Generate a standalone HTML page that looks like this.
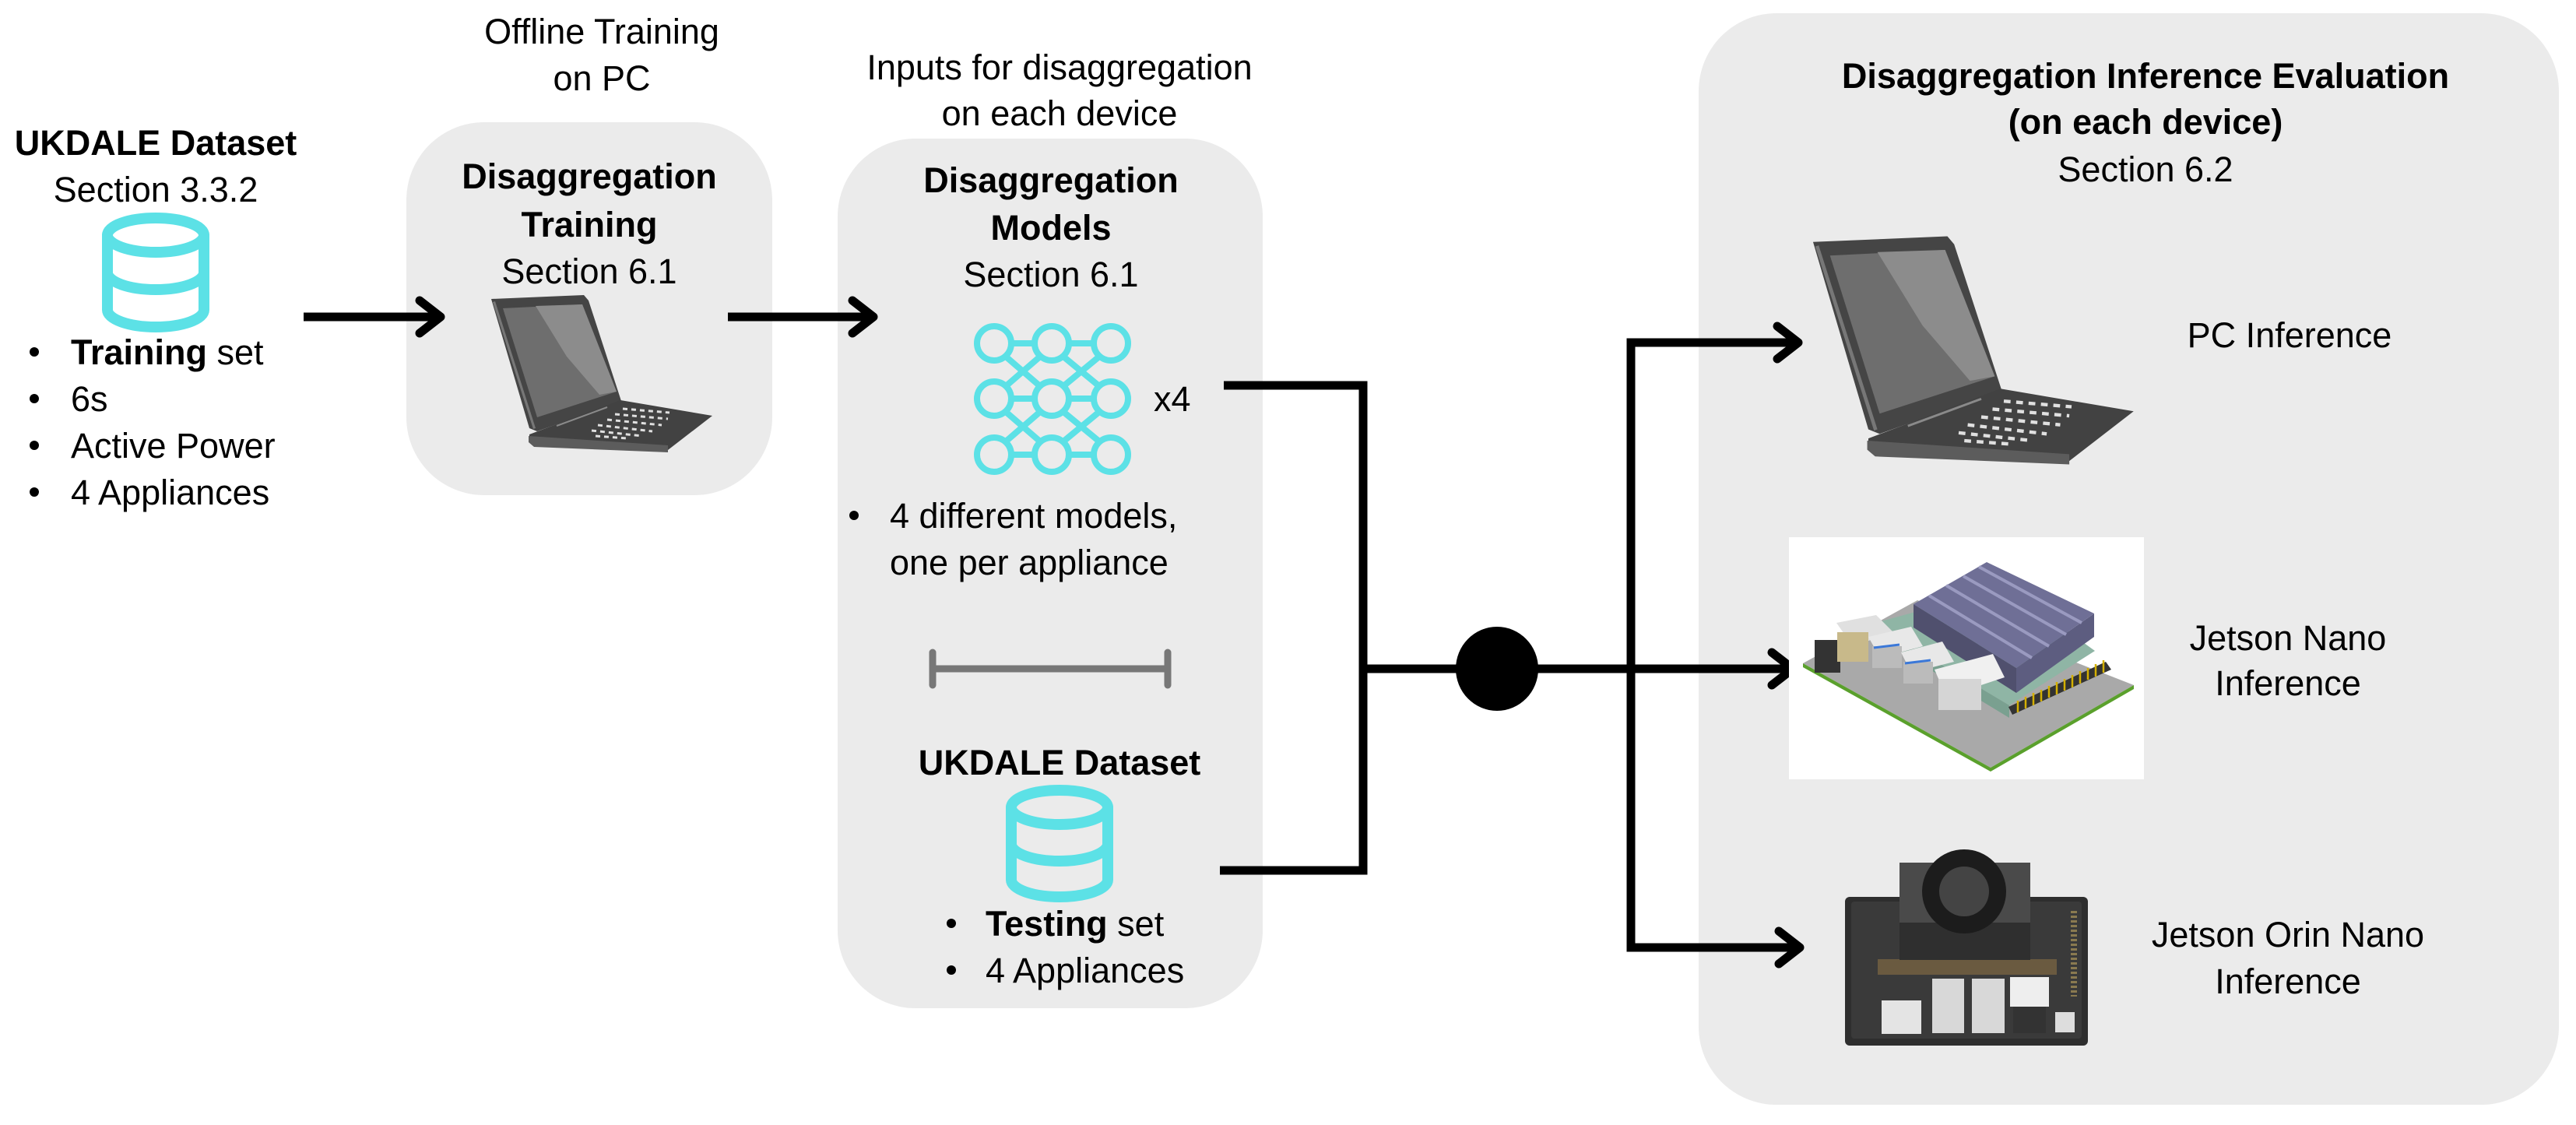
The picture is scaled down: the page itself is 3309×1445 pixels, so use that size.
<!DOCTYPE html>
<html><head><meta charset="utf-8"><style>
html,body{margin:0;padding:0;background:#fff;}
svg{display:block;}
text{font-family:"Liberation Sans",sans-serif;font-size:45px;fill:#000;}
.b{font-weight:bold;}
</style></head><body>
<svg width="3309" height="1445" viewBox="0 0 3309 1445" xmlns="http://www.w3.org/2000/svg">
<defs>
<g id="laptop">
  <polygon points="31,24 150,19 156,26 198,155 90,194 80,190" fill="#454545"/>
  <polygon points="46,36 148,31 192,143 90,176" fill="#6e6e6e"/>
  <polygon points="88,33 148,31 192,143 170,147 128,98" fill="#8c8c8c"/>
  <polygon points="33,28 36,27 88,190 85,191" fill="#777"/>
  <polygon points="80,198 197,154 315,174 258,218 80,208" fill="#424242"/>
  <polygon points="79,200 258,212 258,221 86,214 79,208" fill="#5c5c5c"/>
  <line x1="115" y1="187" x2="180" y2="163" stroke="#8a8a8a" stroke-width="2"/>
  <g stroke="#e0e0e0" stroke-width="3" stroke-dasharray="6,5">
    <line x1="200" y1="165" x2="260" y2="170"/>
    <line x1="190" y1="172" x2="258" y2="178"/>
    <line x1="180" y1="179" x2="250" y2="186"/>
    <line x1="168" y1="186" x2="238" y2="194"/>
    <line x1="160" y1="193" x2="225" y2="200"/>
    <line x1="165" y1="200" x2="205" y2="203"/>
  </g>
</g>
</defs>

<rect x="522" y="157" width="470" height="479" rx="100" fill="#ebebeb"/>
<rect x="1076" y="178" width="546" height="1117" rx="100" fill="#ebebeb"/>
<rect x="2182" y="17" width="1105" height="1402" rx="100" fill="#ebebeb"/>

<text x="773" y="56" text-anchor="middle">Offline Training</text>
<text x="773" y="116" text-anchor="middle">on PC</text>
<text x="200" y="199" text-anchor="middle" class="b">UKDALE Dataset</text>
<text x="200" y="259" text-anchor="middle">Section 3.3.2</text>

<g fill="none" stroke="#5CE1E6" stroke-width="14" stroke-linecap="round">
  <ellipse cx="200" cy="302" rx="62" ry="22"/>
  <path d="M138,302 V398 A62,22 0 0 0 262,398 V302"/>
  <path d="M138,350 A62,22 0 0 0 262,350"/>
</g>
<g>
  <circle cx="44" cy="452" r="6"/><circle cx="44" cy="512" r="6"/><circle cx="44" cy="572" r="6"/><circle cx="44" cy="632" r="6"/>
</g>
<text x="91" y="468"><tspan class="b">Training</tspan> set</text>
<text x="91" y="528">6s</text>
<text x="91" y="588">Active Power</text>
<text x="91" y="648">4 Appliances</text>

<text x="757" y="242" text-anchor="middle" class="b">Disaggregation</text>
<text x="757" y="304" text-anchor="middle" class="b">Training</text>
<text x="757" y="364" text-anchor="middle">Section 6.1</text>
<use href="#laptop" transform="translate(600,360)"/>

<g stroke="#000" stroke-width="11" fill="none" stroke-linecap="round" stroke-linejoin="round">
  <line x1="390" y1="407" x2="562" y2="407" stroke-linecap="butt"/>
  <polyline points="539,386 566,407 539,428"/>
  <line x1="935" y1="407" x2="1118" y2="407" stroke-linecap="butt"/>
  <polyline points="1095,386 1122,407 1095,428"/>
</g>

<text x="1361" y="102" text-anchor="middle">Inputs for disaggregation</text>
<text x="1361" y="161" text-anchor="middle">on each device</text>
<text x="1350" y="247" text-anchor="middle" class="b">Disaggregation</text>
<text x="1350" y="308" text-anchor="middle" class="b">Models</text>
<text x="1350" y="368" text-anchor="middle">Section 6.1</text>

<g fill="none" stroke="#5CE1E6" stroke-width="8">
  <line x1="1300" y1="441" x2="1328" y2="441"/><line x1="1374" y1="441" x2="1404" y2="441"/>
  <line x1="1300" y1="512" x2="1328" y2="512"/><line x1="1374" y1="512" x2="1404" y2="512"/>
  <line x1="1300" y1="584" x2="1328" y2="584"/><line x1="1374" y1="584" x2="1404" y2="584"/>
  <line x1="1292" y1="458" x2="1336" y2="496"/><line x1="1336" y1="458" x2="1292" y2="496"/>
  <line x1="1366" y1="458" x2="1412" y2="496"/><line x1="1412" y1="458" x2="1366" y2="496"/>
  <line x1="1292" y1="529" x2="1336" y2="567"/><line x1="1336" y1="529" x2="1292" y2="567"/>
  <line x1="1366" y1="529" x2="1412" y2="567"/><line x1="1412" y1="529" x2="1366" y2="567"/>
  <circle cx="1277" cy="441" r="22"/><circle cx="1351" cy="441" r="22"/><circle cx="1427" cy="441" r="22"/>
  <circle cx="1277" cy="512" r="22"/><circle cx="1351" cy="512" r="22"/><circle cx="1427" cy="512" r="22"/>
  <circle cx="1277" cy="584" r="22"/><circle cx="1351" cy="584" r="22"/><circle cx="1427" cy="584" r="22"/>
</g>
<text x="1482" y="528">x4</text>
<circle cx="1097" cy="662" r="6"/>
<text x="1143" y="678">4 different models,</text>
<text x="1143" y="738">one per appliance</text>

<g stroke="#777" stroke-width="9" stroke-linecap="round">
  <line x1="1198" y1="859" x2="1500" y2="859"/>
  <line x1="1198" y1="838" x2="1198" y2="880"/>
  <line x1="1500" y1="838" x2="1500" y2="880"/>
</g>

<text x="1361" y="995" text-anchor="middle" class="b">UKDALE Dataset</text>
<g fill="none" stroke="#5CE1E6" stroke-width="14" stroke-linecap="round">
  <ellipse cx="1361" cy="1037" rx="62" ry="22"/>
  <path d="M1299,1037 V1130 A62,22 0 0 0 1423,1130 V1037"/>
  <path d="M1299,1084 A62,22 0 0 0 1423,1084"/>
</g>
<circle cx="1222" cy="1186" r="6"/><circle cx="1222" cy="1246" r="6"/>
<text x="1266" y="1202"><tspan class="b">Testing</tspan> set</text>
<text x="1266" y="1262">4 Appliances</text>

<g stroke="#000" stroke-width="11" fill="none" stroke-linejoin="miter">
  <polyline points="1572,495 1751,495 1751,1118 1567,1118"/>
  <line x1="1751" y1="859" x2="2297" y2="859"/>
  <polyline points="2306,440 2095,440 2095,1217 2306,1217"/>
</g>
<g stroke="#000" stroke-width="11" fill="none" stroke-linecap="round" stroke-linejoin="round">
  <polyline points="2283,419 2310,440 2283,461"/>
  <polyline points="2276,838 2303,859 2276,880"/>
  <polyline points="2285,1196 2312,1217 2285,1238"/>
</g>
<ellipse cx="1923" cy="859" rx="53" ry="54" fill="#000"/>

<text x="2756" y="113" text-anchor="middle" class="b">Disaggregation Inference Evaluation</text>
<text x="2756" y="172" text-anchor="middle" class="b">(on each device)</text>
<text x="2756" y="233" text-anchor="middle">Section 6.2</text>

<use href="#laptop" transform="translate(2284,276) scale(1.45)"/>
<text x="2941" y="446" text-anchor="middle">PC Inference</text>

<!-- Jetson Nano -->
<rect x="2298" y="690" width="456" height="311" fill="#fff"/>
<polygon points="2316,852 2463,771 2741,880 2557,986" fill="#a9a9a9"/>
<polygon points="2316,852 2557,986 2557,991 2316,857" fill="#5aa02c"/>
<polygon points="2557,986 2741,880 2741,885 2557,991" fill="#5aa02c"/>
<polygon points="2405,801 2578,754 2691,836 2581,906" fill="#8fb5a5"/>
<polygon points="2405,801 2581,906 2581,922 2405,815" fill="#7aa090"/>
<!-- heatsink 3D -->
<polygon points="2458,776 2590,858 2590,890 2458,806" fill="#50506e"/>
<polygon points="2590,858 2690,788 2690,818 2590,890" fill="#5d5d80"/>
<polygon points="2458,776 2552,722 2690,788 2590,858" fill="#6f6f96"/>
<g stroke="#9a9ac0" stroke-width="4">
  <line x1="2478" y1="765" x2="2610" y2="845"/>
  <line x1="2500" y1="752" x2="2632" y2="830"/>
  <line x1="2522" y1="740" x2="2654" y2="815"/>
  <line x1="2542" y1="728" x2="2674" y2="800"/>
</g>
<rect x="2331" y="822" width="33" height="42" fill="#333"/>
<polygon points="2359,800 2410,790 2432,812 2380,830" fill="#e0e0e0"/>
<rect x="2360" y="812" width="40" height="38" fill="#c8b98a"/>
<polygon points="2400,818 2455,805 2470,830 2415,845" fill="#e8e8e8"/>
<rect x="2405" y="830" width="38" height="28" fill="#bbb"/>
<line x1="2407" y1="832" x2="2440" y2="828" stroke="#3b78d8" stroke-width="3"/>
<polygon points="2442,838 2495,824 2510,850 2455,864" fill="#e8e8e8"/>
<rect x="2445" y="850" width="38" height="28" fill="#bbb"/>
<line x1="2447" y1="852" x2="2480" y2="848" stroke="#3b78d8" stroke-width="3"/>
<polygon points="2485,860 2560,840 2575,870 2500,895" fill="#f0f0f0"/>
<rect x="2490" y="872" width="55" height="40" fill="#d5d5d5"/>
<polygon points="2580,908 2705,850 2712,860 2585,918" fill="#333"/>
<g stroke="#d4b000" stroke-width="2.5">
  <line x1="2592" y1="900" x2="2592" y2="915"/><line x1="2602" y1="895" x2="2602" y2="910"/>
  <line x1="2612" y1="890" x2="2612" y2="906"/><line x1="2622" y1="886" x2="2622" y2="901"/>
  <line x1="2632" y1="881" x2="2632" y2="896"/><line x1="2642" y1="876" x2="2642" y2="892"/>
  <line x1="2652" y1="872" x2="2652" y2="887"/><line x1="2662" y1="867" x2="2662" y2="883"/>
  <line x1="2672" y1="862" x2="2672" y2="878"/><line x1="2682" y1="858" x2="2682" y2="873"/>
  <line x1="2692" y1="853" x2="2692" y2="869"/><line x1="2702" y1="848" x2="2702" y2="864"/>
</g>
<text x="2939" y="835" text-anchor="middle">Jetson Nano</text>
<text x="2939" y="893" text-anchor="middle">Inference</text>

<!-- Jetson Orin Nano -->
<rect x="2370" y="1152" width="312" height="191" rx="6" fill="#2e2e2e"/>
<rect x="2378" y="1158" width="296" height="176" rx="4" fill="#3a3a3a"/>
<rect x="2412" y="1232" width="230" height="20" fill="#6a5a40"/>
<rect x="2440" y="1108" width="168" height="125" fill="#4a4a4a"/>
<rect x="2440" y="1185" width="168" height="48" fill="#2f2f2f"/>
<circle cx="2523" cy="1145" r="54" fill="#1c1c1c"/>
<circle cx="2523" cy="1145" r="32" fill="#444"/>
<rect x="2417" y="1285" width="51" height="43" fill="#e4e4e4"/>
<rect x="2482" y="1257" width="41" height="70" fill="#d8d8d8"/>
<rect x="2533" y="1257" width="42" height="70" fill="#d8d8d8"/>
<rect x="2582" y="1255" width="50" height="38" fill="#eee"/>
<rect x="2586" y="1293" width="42" height="34" fill="#333"/>
<rect x="2640" y="1300" width="25" height="26" fill="#ddd"/>
<line x1="2664" y1="1170" x2="2664" y2="1280" stroke="#8a7a50" stroke-width="8" stroke-dasharray="3,3"/>
<text x="2939" y="1216" text-anchor="middle">Jetson Orin Nano</text>
<text x="2939" y="1276" text-anchor="middle">Inference</text>
</svg>
</body></html>
